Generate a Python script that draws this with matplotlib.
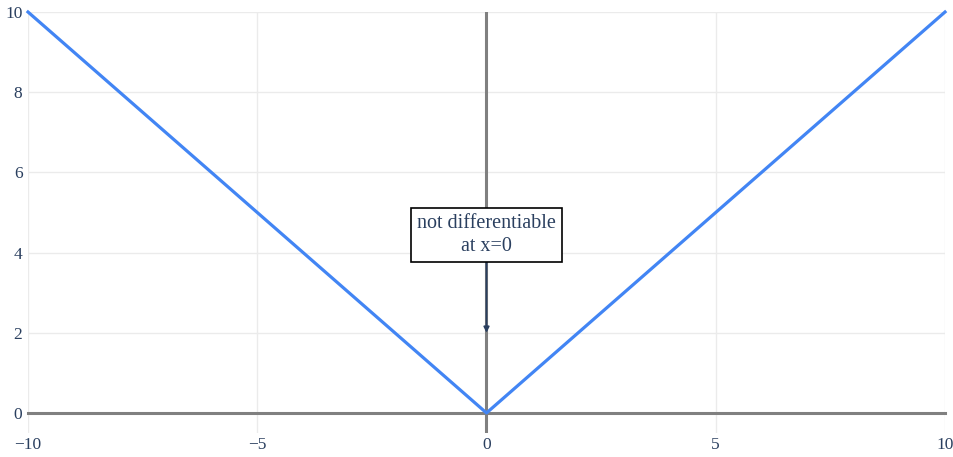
import numpy as np
import matplotlib.pyplot as plt

# данные: y = |x|
x_values = [-10, 0, 10]
y_values = [10, 0, 10]

x_ticks = [-10, -5, 0, 5, 10]
y_ticks = [0, 2, 4, 6, 8, 10]

note_text = 'not differentiable\nat x=0'
note_xy = (0, 2)

text_color = '#2a3f5f'
plt.rcParams['font.family'] = ['Liberation Serif', 'DejaVu Serif']

fig = plt.figure(figsize=(9.54, 4.57), dpi=100)
ax = fig.add_axes([28 / 954, 24 / 457, 917 / 954, 421 / 457])

ax.set_xlim(-10, 10)
ax.set_ylim(-0.5, 10)

# сетка
for xt in x_ticks:
    if xt != 0:
        ax.axvline(xt, color='#ebebeb', lw=1, zorder=0)
for yt in y_ticks:
    if yt != 0:
        ax.axhline(yt, color='#ebebeb', lw=1, zorder=0)

# нулевые линии
ax.axvline(0, color='#808080', lw=2.2, zorder=1)
ax.plot([-10, 10], [0, 0], color='#808080', lw=2.2, zorder=1, clip_on=False)

ax.plot(x_values, y_values, color='#4285f4', lw=2.3, zorder=3, clip_on=False)

ax.annotate(note_text, xy=note_xy, xytext=(0, 4.44), ha='center', va='center',
            fontsize=14.5, color=text_color, linespacing=1.25,
            bbox=dict(boxstyle='square,pad=0.3', fc='white', ec='black', lw=1.2),
            arrowprops=dict(arrowstyle='-|>', color=text_color, lw=1.3,
                            mutation_scale=8, shrinkA=0, shrinkB=0),
            zorder=5)

ax.set_xticks(x_ticks)
ax.set_yticks(y_ticks)
ax.set_xticklabels(['\u221210', '\u22125', '0', '5', '10'])
ax.tick_params(length=0, labelsize=12.5, colors=text_color, pad=4)
ax.tick_params(axis='x', pad=3)
for s in ax.spines.values():
    s.set_visible(False)

fig.savefig('out.png', dpi=100)
